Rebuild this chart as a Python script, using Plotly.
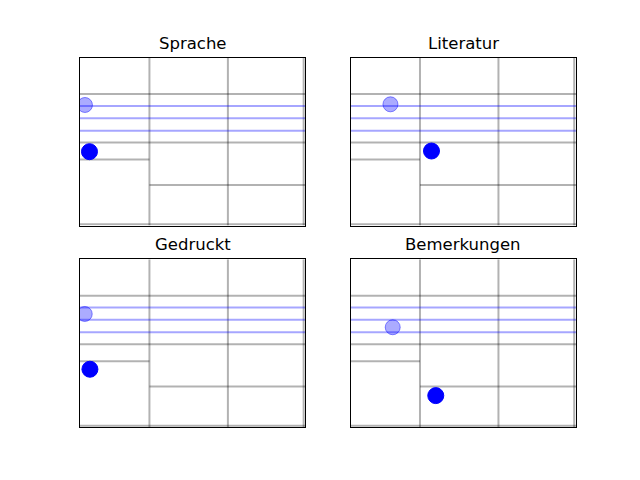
import plotly.graph_objects as go

# ---- data (normalized axis units, 0..1) ----
titles = ["Sprache", "Literatur", "Gedruckt", "Bemerkungen"]
v_lines_x = [0.308, 0.656, 0.992]
h_full_y = [0.783, 0.494, 0.008]
h_left_y = 0.393
h_right_y = 0.242
blue_y = [0.712, 0.639, 0.565]
faint_x = [0.022, 0.177, 0.021, 0.187]
faint_y = [0.718, 0.722, 0.674, 0.595]
solid_x = [0.042, 0.359, 0.044, 0.378]
solid_y = [0.440, 0.444, 0.345, 0.188]

W, H = 640, 480
x_domains = [[80 / W, 305.45 / W], [350.55 / W, 576 / W]]
y_domains_top = [(480 - 225.6) / H, (480 - 57.6) / H]
y_domains_bot = [(480 - 427.2) / H, (480 - 259.2) / H]
panels = [
    (x_domains[0], y_domains_top),
    (x_domains[1], y_domains_top),
    (x_domains[0], y_domains_bot),
    (x_domains[1], y_domains_bot),
]

GRAY = "rgba(0,0,0,0.3)"
BLUE = "rgba(0,0,255,0.35)"

fig = go.Figure()
layout = dict(width=W, height=H, margin=dict(l=0, r=0, t=0, b=0),
              paper_bgcolor="white", plot_bgcolor="white", showlegend=False)
annotations = []

for i, (xd, yd) in enumerate(panels):
    sfx = "" if i == 0 else str(i + 1)
    xa, ya = "x" + sfx, "y" + sfx
    ax_common = dict(range=[0, 1], showticklabels=False, ticks="", showgrid=False,
                     zeroline=False, showline=True, mirror=True, linecolor="black",
                     linewidth=1)
    layout["xaxis" + sfx] = dict(domain=xd, anchor=ya, **ax_common)
    layout["yaxis" + sfx] = dict(domain=yd, anchor=xa, **ax_common)

    for vx in v_lines_x:
        fig.add_trace(go.Scatter(x=[vx, vx], y=[0, 1], mode="lines",
                                 line=dict(color=GRAY, width=2), xaxis=xa, yaxis=ya,
                                 hoverinfo="skip"))
    for hy in h_full_y:
        fig.add_trace(go.Scatter(x=[0, 1], y=[hy, hy], mode="lines",
                                 line=dict(color=GRAY, width=2), xaxis=xa, yaxis=ya,
                                 hoverinfo="skip"))
    fig.add_trace(go.Scatter(x=[0, v_lines_x[0]], y=[h_left_y, h_left_y], mode="lines",
                             line=dict(color=GRAY, width=2), xaxis=xa, yaxis=ya,
                             hoverinfo="skip"))
    fig.add_trace(go.Scatter(x=[v_lines_x[0], 1], y=[h_right_y, h_right_y], mode="lines",
                             line=dict(color=GRAY, width=2), xaxis=xa, yaxis=ya,
                             hoverinfo="skip"))
    for by in blue_y:
        fig.add_trace(go.Scatter(x=[0, 1], y=[by, by], mode="lines",
                                 line=dict(color=BLUE, width=2), xaxis=xa, yaxis=ya,
                                 hoverinfo="skip"))
    fig.add_trace(go.Scatter(x=[faint_x[i]], y=[faint_y[i]], mode="markers",
                             cliponaxis=True,
                             marker=dict(size=15, color="rgba(0,0,255,0.33)",
                                         line=dict(color="rgba(0,0,255,0.45)", width=1)),
                             xaxis=xa, yaxis=ya))
    fig.add_trace(go.Scatter(x=[solid_x[i]], y=[solid_y[i]], mode="markers",
                             cliponaxis=True,
                             marker=dict(size=16, color="blue",
                                         line=dict(color="blue", width=1)),
                             xaxis=xa, yaxis=ya))

    annotations.append(dict(text=titles[i], xref="paper", yref="paper",
                            x=(xd[0] + xd[1]) / 2, y=yd[1], yshift=3,
                            xanchor="center", yanchor="bottom", showarrow=False,
                            font=dict(family="DejaVu Sans", size=16.5, color="black")))

layout["annotations"] = annotations
fig.update_layout(**layout)
fig.write_html("out.html")
